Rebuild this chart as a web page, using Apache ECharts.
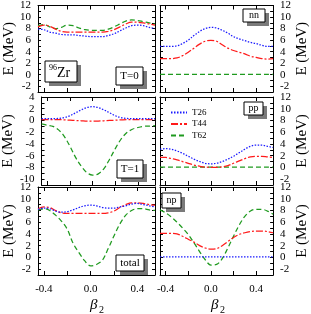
<!DOCTYPE html>
<html><head><meta charset="utf-8">
<script src="https://cdn.jsdelivr.net/npm/echarts@6/dist/echarts.min.js"></script>
<style>html,body{margin:0;padding:0;background:#fff}#c{width:311px;height:314px}</style>
</head><body><div id="c"></div>
<script>
// beta_2 deformation grid
const beta = [-0.45,-0.4,-0.35,-0.3,-0.25,-0.2,-0.15,-0.1,-0.05,0,0.05,0.1,0.15,0.2,0.25,0.3,0.35,0.4,0.45,0.5,0.55];
const seriesNames = ['T26','T44','T62'];
const yTickLabels = [-10,-8,-6,-4,-2,0,2,4,6,8,10,12];
const xTickLabels = [-0.4,0.0,0.4];

// T=0 panel
const t0_T26 = [7.9,7.8,7.4,7.2,7.0,6.9,6.9,6.8,6.7,6.6,6.6,6.6,6.8,7.1,7.6,8.1,8.5,8.6,8.5,8.2,8.0];
const t0_T44 = [8.3,8.6,8.4,7.9,7.5,7.4,7.4,7.4,7.4,7.4,7.4,7.4,7.5,7.8,8.3,8.8,9.1,9.1,9.0,8.8,8.6];
const t0_T62 = [8.5,8.7,8.3,8.0,8.2,8.6,8.5,8.1,7.8,7.7,7.7,7.7,7.9,8.3,8.8,9.3,9.5,9.4,9.2,9.0,8.8];
// nn panel
const nn_T26 = [4.9,4.9,4.9,5.0,5.4,6.0,6.8,7.5,8.0,8.2,8.1,7.7,7.2,6.6,6.2,5.9,5.6,5.4,5.1,4.9,4.9];
const nn_T44 = [2.8,2.8,2.8,2.9,3.3,3.9,4.6,5.3,5.8,5.95,5.8,5.2,4.6,4.2,3.9,3.6,3.2,3.0,2.8,2.7,2.8];
const nn_T62 = [0.05,0.05,0.05,0.05,0.05,0.05,0.05,0.05,0.05,0.05,0.05,0.05,0.05,0.05,0.05,0.05,0.05,0.05,0.05,0.05,0.05];
// T=1 panel
const t1_T26 = [0.3,0.3,0.3,0.35,0.5,0.8,1.3,1.8,2.2,2.35,2.2,1.8,1.3,0.8,0.5,0.35,0.3,0.3,0.3,0.3,0.3];
const t1_T44 = [0.15,0.15,0.15,0.15,0.1,0.05,0,-0.05,-0.1,-0.1,-0.1,-0.05,0,0.05,0.1,0.15,0.15,0.15,0.15,0.15,0.15];
const t1_T62 = [-0.6,-0.8,-1.0,-1.6,-2.7,-4.4,-6.3,-7.8,-8.9,-9.3,-9.1,-8.2,-6.6,-4.8,-3.2,-2.1,-1.5,-1.2,-1.0,-0.95,-0.9];
// pp panel
const pp_T26 = [3.1,3.2,3.1,2.8,2.4,1.9,1.4,1.0,0.7,0.6,0.7,1.0,1.4,1.9,2.5,3.1,3.6,3.8,3.8,3.6,3.4];
const pp_T44 = [1.7,1.7,1.5,1.3,1.0,0.7,0.4,0.2,0.05,0.0,0.0,0.1,0.3,0.7,1.1,1.5,1.8,1.9,1.9,1.8,1.7];
const pp_T62 = [0.05,0.05,0.05,0.05,0.05,0.05,0.05,0.05,0.05,0.05,0.05,0.05,0.05,0.05,0.05,0.05,0.05,0.05,0.05,0.05,0.05];
// total panel
const tot_T26 = [8.2,8.4,8.3,7.9,7.7,7.8,8.1,8.5,8.8,8.9,8.8,8.5,8.4,8.4,8.6,8.8,9.1,9.2,9.0,8.8,8.6];
const tot_T44 = [8.3,8.6,8.5,8.0,7.6,7.5,7.5,7.5,7.5,7.5,7.5,7.5,7.6,7.9,8.5,9.0,9.3,9.3,9.2,9.0,8.9];
const tot_T62 = [8.1,8.3,8.0,7.2,6.2,4.8,2.4,0.8,-0.6,-1.45,-1.2,-0.5,1.5,3.7,5.7,7.2,8.0,8.3,8.3,8.1,8.0];
// np panel
const np_T26 = [0.1,0.1,0.1,0.1,0.1,0.1,0.1,0.1,0.1,0.1,0.1,0.1,0.1,0.1,0.1,0.1,0.1,0.1,0.1,0.1,0.1];
const np_T44 = [4.1,4.1,4.1,4.0,3.6,3.1,2.6,2.0,1.6,1.4,1.5,2.0,2.7,3.4,3.9,4.2,4.4,4.5,4.5,4.4,4.2];
const np_T62 = [8.1,7.6,6.9,6.0,5.0,3.9,2.5,1.0,-0.4,-1.3,-1.2,-0.2,1.6,3.6,5.5,7.0,7.9,8.2,8.2,7.9,7.35];

const FONT = 'Liberation Serif';
const colors = ['#1a1aff','#ff1a1a','#1f9a1f'];
const dashes = [[1.5,1.5],[7,2,2,2],[5,3]];
const panelData = [
  [t0_T26,t0_T44,t0_T62],[nn_T26,nn_T44,nn_T62],
  [t1_T26,t1_T44,t1_T62],[pp_T26,pp_T44,pp_T62],
  [tot_T26,tot_T44,tot_T62],[np_T26,np_T44,np_T62]
];
const yRanges = [[-3,12],[-3,12],[-11,4],[-3,12],[-3,12],[-3,12]];
const cols = [{left:38,width:117},{left:160,width:115}];
const rows = [{top:4,height:88},{top:97,height:88},{top:187,height:88}];

const grid=[], xAxis=[], yAxis=[], series=[];
const lineStyleAx = {color:'#000', width:1};
for (let p=0;p<6;p++){
  const r=Math.floor(p/2), c=p%2;
  grid.push({left:cols[c].left, top:rows[r].top, width:cols[c].width, height:rows[r].height});
  const xBase = {gridIndex:p, type:'value', min:-0.45, max:0.55, splitNumber:5,
    axisLine:{onZero:false, lineStyle:lineStyleAx},
    axisTick:{inside:true, length:4, lineStyle:lineStyleAx},
    splitLine:{show:false}};
  xAxis.push(Object.assign({}, xBase, {position:'bottom',
    axisLabel:{show:r===2, showMinLabel:false, showMaxLabel:false, margin:9, fontSize:11, fontFamily:FONT, color:'#000',
      formatter:v=>{ const hit = xTickLabels.find(t=>Math.abs(t-v)<1e-6); return hit===undefined?'':hit.toFixed(1); }}}));
  xAxis.push(Object.assign({}, xBase, {position:'top', axisLabel:{show:false}}));
  const yBase = {gridIndex:p, type:'value', min:yRanges[p][0], max:yRanges[p][1], interval:1,
    axisLine:{onZero:false, lineStyle:lineStyleAx},
    axisTick:{inside:true, length:3, lineStyle:lineStyleAx},
    splitLine:{show:false},
    nameLocation:'middle', nameRotate:90,
    nameTextStyle:{fontSize:15, fontFamily:FONT, color:'#000'}};
  const yLab = show => ({show, fontSize:11, fontFamily:FONT, color:'#000', margin:7,
    formatter:v=> yTickLabels.indexOf(v)>=0 ? String(v) : ''});
  yAxis.push(Object.assign({}, yBase, {position:'left', axisLabel:yLab(c===0), name:c===0?'E (MeV)':'', nameGap:21}));
  yAxis.push(Object.assign({}, yBase, {position:'right', axisLabel:yLab(c===1), name:c===1?'E (MeV)':'', nameGap:20}));
  for (let k=0;k<3;k++){
    series.push({type:'line', name:seriesNames[k], xAxisIndex:2*p, yAxisIndex:2*p,
      data:beta.map((b,i)=>[b, panelData[p][k][i]]), smooth:0.35, symbol:'none', showSymbol:false,
      lineStyle:{color:colors[k], width:1.25, type:dashes[k]}, itemStyle:{color:colors[k]}, z:3-k});
  }
}

function box(x,y,w,h,children){
  return [
    {type:'rect', shape:{x:x+4,y:y+4,width:w,height:h}, style:{fill:'#7a7a7a'}, z:10},
    {type:'rect', shape:{x:x,y:y,width:w,height:h}, style:{fill:'#fff', stroke:'#000', lineWidth:1}, z:11}
  ].concat(children.map(ch=>Object.assign({type:'text', z:12}, ch)));
}
function label(x,y,w,h,txt,fs){
  return box(x,y,w,h,[{style:{text:txt, x:x+w/2, y:y+h/2, align:'center', verticalAlign:'middle', fontSize:fs, fontFamily:FONT, fill:'#000'}}]);
}
let graphic = [];
graphic = graphic.concat(box(45,61,32,21,[
  {style:{text:'96', x:49, y:64, fontSize:8, fontFamily:FONT, fill:'#000'}},
  {style:{text:'Zr', x:57, y:66, fontSize:14, fontFamily:FONT, fill:'#000'}}
]));
graphic = graphic.concat(label(116,67,27,18,'T=0',11));
graphic = graphic.concat(label(243,9,22,13,'nn',10));
graphic = graphic.concat(label(117,160,26,18,'T=1',11));
graphic = graphic.concat(label(244,102,19,13,'pp',10));
graphic = graphic.concat(label(116,255,28,16,'total',11));
graphic = graphic.concat(label(162,193,19,15,'np',10));
[[90,298],[211,298]].forEach(([x,y])=>{
  graphic.push({type:'text', style:{text:'β', x:x, y:y, fontSize:15, fontStyle:'italic', fontFamily:FONT, fill:'#000'}});
  graphic.push({type:'text', style:{text:'2', x:x+9, y:y+7, fontSize:10, fontFamily:FONT, fill:'#000'}});
});

const chart = echarts.init(document.getElementById('c'), null, {renderer:'canvas'});
chart.setOption({
  animation:false,
  backgroundColor:'#fff',
  grid, xAxis, yAxis, series, graphic,
  legend:{data:seriesNames, orient:'vertical', left:165, top:103, itemWidth:16, itemHeight:7, itemGap:2.5,
    itemStyle:{opacity:0},
    textStyle:{fontSize:9, fontFamily:FONT, color:'#000'}}
});
</script></body></html>
